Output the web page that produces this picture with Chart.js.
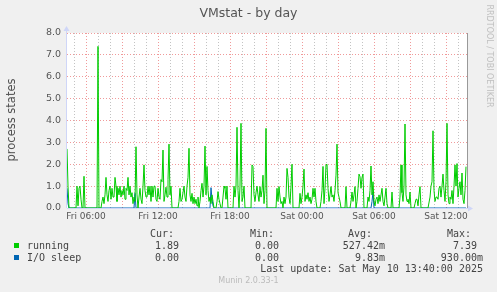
<!DOCTYPE html>
<html>
<head>
  <meta charset="utf-8">
  <title>VMstat - by day</title>
  <script src="https://cdn.jsdelivr.net/npm/chart.js"></script>
  <style>
    * { margin: 0; padding: 0; }
    body {
      width: 497px;
      height: 292px;
      background-color: #f0f0f0;
      position: relative;
      overflow: hidden;
      font-family: 'DejaVu Sans', sans-serif;
    }
    #chart { position: absolute; left: 0; top: 0; }
    .txt { position: absolute; white-space: pre; }
    #title { left: 0; width: 497px; top: 5px; text-align: center; font-size: 12.5px; line-height: 16px; color: #555; }
    #ytitle { left: -39px; top: 113px; width: 100px; text-align: center; font-size: 11.5px; line-height: 14px; color: #555; transform: rotate(-90deg); }
    #rrd { left: 437px; top: 51px; width: 104px; text-align: center; font-size: 8px; line-height: 10px; color: #c0c0c0; transform: rotate(90deg); }
    .mono { font-family: 'DejaVu Sans Mono', monospace; font-size: 10px; line-height: 12px; color: #444; }
    .sq { position: absolute; width: 5px; height: 5px; }
    #munin { left: 0; width: 497px; text-align: center; top: 276px; font-size: 8px; line-height: 10px; color: #bbb; }
  </style>
</head>
<body>
  <canvas id="chart" width="497" height="292"></canvas>
  <div class="txt" id="title">VMstat - by day</div>
  <div class="txt" id="ytitle">process states</div>
  <div class="txt" id="rrd">RRDTOOL / TOBI OETIKER</div>
  <div id="legend"></div>
  <div class="txt" id="munin">Munin 2.0.33-1</div>
  <script>
    // 5 minute samples, Fri 04:25 -> Sat 13:40
    const startHour = 4 + 25 / 60;
    const stepHour = 5 / 60;

    const running = [
      2.7,1.0,0,0,0,0,0,0,0,0,1.0,0.1,0.9,1.0,0.4,0,0,1.45,0,0,
      0,0,0,0,0,0,0,0,0,0,0,7.39,0,0,0,0.3,0.5,0.2,0.6,1.4,
      0.6,0.3,0.8,1.0,0.4,0.9,0.5,0.5,1.4,1.0,0.3,0.9,0.6,1.0,0.5,0.8,0.6,1.0,0.4,0.9,
      0.8,1.4,0.6,1.0,0.5,0.7,0.2,0.5,0.3,2.8,0.6,0,0.5,0.9,0.4,0.2,1.0,1.97,0.8,0.5,
      0.5,1.0,0.6,1.0,0.3,1.0,0.5,1.0,1.0,0.4,0.3,0.9,0.5,0.4,1.3,1.2,2.65,0.3,0.6,0.95,
      0.5,1.3,2.92,0.6,1.0,0,0,0,0,0,0,0,0.3,0.9,0.3,0.4,0.7,1.0,0.5,0.3,
      1.0,1.4,2.73,0.6,0.3,0.67,0.2,0.5,0.2,0.4,0.1,0.5,0,0.3,0.8,1.13,0.5,1.0,2.83,0.6,
      1.9,0.8,0.3,0.5,0.2,0.6,0.3,0,0,0,0.3,0.75,0.4,0.2,0,0,0.5,1.0,0.9,0.4,
      1.0,0,0,0,0,0,0,1.0,0.5,1.0,3.69,0.8,0,1.0,3.87,0.3,0.5,1.0,0,0,
      0,0,0,0,0,1.97,1.9,0.6,0.3,0.7,1.0,0.6,0.3,0.98,0.5,0.8,1.5,0.2,0.8,3.64,
      0,0,0,0,0,0,0,0,0,0,0.9,0.3,0.98,0.5,0.2,0.3,0,0.5,0.2,0.5,
      1.81,1.4,0.5,0.2,1.0,2.0,0,0,0,0,0,0,0,0.67,0.2,0.5,1.0,1.78,0.3,0.6,
      0.4,0.7,0.3,0.5,0.2,0.4,0.9,0.5,0.9,0.3,0,0,0,0,0.3,0.8,1.9,0.2,0.9,1.97,
      2.0,0.9,0.3,0.6,0.98,0.5,0.6,0.3,0.8,1.5,2.92,0.7,0.5,0.3,0,0,0,0,0,0.98,
      0,0,0,0,0.3,0.73,0.3,0.6,0.98,0,0.3,0.9,1.55,1.43,0.9,1.4,1.55,0,0,0,
      0,0.5,0.3,0.8,1.92,0.6,1.2,0.3,0.1,0.4,0.5,0.2,0.6,0.3,0.6,0.9,0.3,0.1,0.5,0.9,
      0.2,0,0,0,0,0.73,0,0,0,0,0,0,0,0.5,1.97,0.7,0.3,1.0,3.84,0.6,
      0.3,0.4,0.2,0.73,0,0,0,0,0.2,0.4,0.4,0.1,0.6,0.98,0,0,0,0,0,0,
      0,0,0,0.5,1.0,1.2,3.53,0.8,0.3,0.5,0.5,0.4,0.9,1.0,0.5,1.0,1.55,0.8,0.3,1.2,
      3.87,0.6,0.2,0.5,0.4,0.8,0.2,1.0,1.97,1.0,2.03,0.5,0.9,1.2,0.6,1.6,0.4,0.2,0.8,1.89
    ];

    const ioSleep = [
      0.9,0.2,0,0,0,0,0,0,0,0,0,0,0,0,0,0,0,0,0,0,
      0,0,0,0,0,0,0,0,0,0,0,0,0,0,0,0,0,0,0,0,
      0,0,0,0,0,0,0,0,0,0,0,0,0,0,0,0,0,0,0,0,
      0,0,0,0,0,0,0,0,0.67,0,0,0,0,0,0,0,0,0,0,0,
      0,0,0,0,0,0,0,0,0,0,0,0,0,0,0,0,0,0,0,0,
      0,0,0,0,0,0,0,0,0,0,0,0,0,0,0,0,0,0,0,0,
      0,0,0,0,0,0,0,0,0,0,0,0,0,0,0,0,0,0,0,0,
      0,0,0,0,0.93,0.4,0.1,0,0,0,0,0,0,0,0,0,0,0,0,0,
      0,0,0,0,0,0,0,0,0,0,0,0,0,0,0,0,0,0,0,0,
      0,0,0,0,0,0,0,0,0,0,0,0,0,0,0,0,0,0,0,0,
      0,0,0,0,0,0,0,0,0,0,0,0,0,0,0,0,0,0,0,0,
      0,0,0,0,0,0,0,0,0,0,0,0,0,0,0,0,0,0,0,0,
      0,0,0,0,0,0,0,0,0,0,0,0,0,0,0,0,0,0,0,0,
      0,0,0,0,0,0,0,0,0,0,0,0,0,0,0,0,0,0,0,0,
      0,0,0,0,0,0,0,0,0,0,0,0,0,0,0,0,0,0,0,0,
      0,0,0,0,0,0.3,0.73,0,0,0,0,0,0,0,0,0,0,0,0,0,
      0,0,0,0,0,0,0,0,0,0,0,0,0,0,0,0,0,0,0,0,
      0,0,0,0,0,0,0,0,0,0,0,0,0,0,0,0,0,0,0,0,
      0,0,0,0,0,0,0,0,0,0,0,0,0,0,0,0,0,0,0,0,
      0,0,0,0,0,0,0,0,0,0,0,0,0,0,0,0,0,0,0,0
    ];

    const xTickHours = [6, 12, 18, 24, 30, 36];
    const xTickLabels = ['Fri 06:00', 'Fri 12:00', 'Fri 18:00', 'Sat 00:00', 'Sat 06:00', 'Sat 12:00'];

    const seriesNames = ['running', 'I/O sleep'];
    const seriesColors = ['#00cc00', '#0066b3'];
    const curVals = ['1.89', '0.00'];
    const minVals = ['0.00', '0.00'];
    const avgVals = ['527.42m', '9.83m'];
    const maxVals = ['7.39 ', '930.00m'];
    const lastUpdate = 'Last update: Sat May 10 13:40:00 2025';

    // legend table under the graph
    const legend = document.getElementById('legend');
    function addText(txt, top, left, right) {
      const d = document.createElement('div');
      d.className = 'txt mono';
      d.textContent = txt;
      d.style.top = top + 'px';
      if (left !== null) d.style.left = left + 'px';
      else d.style.right = (497 - right) + 'px';
      legend.appendChild(d);
    }
    addText('Cur:', 228, 150, null);
    addText('Min:', 228, 250, null);
    addText('Avg:', 228, 348, null);
    addText('Max:', 228, 447, null);
    seriesNames.forEach((name, i) => {
      const top = 240 + i * 11.5;
      const sq = document.createElement('div');
      sq.className = 'sq';
      sq.style.left = '14px';
      sq.style.top = (top + 3) + 'px';
      sq.style.background = seriesColors[i];
      legend.appendChild(sq);
      addText(name, top, 27, null);
      addText(curVals[i] + ' ', top, null, 185);
      addText(minVals[i] + ' ', top, null, 285);
      addText(avgVals[i], top, null, 385);
      addText(maxVals[i], top, null, 483);
    });
    addText(lastUpdate, 263, null, 483);

    const hourTicks = [];
    for (let h = 5; h <= 37; h++) hourTicks.push(h);

    const toPoints = arr => arr.map((v, i) => ({ x: startHour + i * stepHour, y: v }));

    const frame = {
      id: 'frame',
      beforeDraw(chart) {
        const a = chart.chartArea, c = chart.ctx;
        c.save();
        c.fillStyle = '#ffffff';
        c.fillRect(a.left, a.top, a.right - a.left, a.bottom - a.top);
        c.restore();
      },
      beforeDatasetsDraw(chart) {
        const a = chart.chartArea, c = chart.ctx;
        c.save();
        c.strokeStyle = '#cfd6f8';
        c.fillStyle = '#cfd6f8';
        c.lineWidth = 1;
        c.beginPath();
        c.moveTo(a.left - 0.5, a.bottom);
        c.lineTo(a.left - 0.5, a.top - 4);
        c.moveTo(a.left, a.bottom + 0.5);
        c.lineTo(a.right + 4, a.bottom + 0.5);
        c.stroke();
        c.beginPath();
        c.moveTo(a.left - 3.5, a.top - 2);
        c.lineTo(a.left + 2.5, a.top - 2);
        c.lineTo(a.left - 0.5, a.top - 7);
        c.closePath();
        c.fill();
        c.beginPath();
        c.moveTo(a.right + 1, a.bottom - 2.5);
        c.lineTo(a.right + 1, a.bottom + 3.5);
        c.lineTo(a.right + 6, a.bottom + 0.5);
        c.closePath();
        c.fill();
        c.restore();
      },
      afterDatasetsDraw(chart) {
        const a = chart.chartArea, c = chart.ctx;
        c.save();
        c.strokeStyle = '#999999';
        c.lineWidth = 1;
        c.beginPath();
        c.moveTo(a.right + 0.5, a.top);
        c.lineTo(a.right + 0.5, a.bottom);
        c.stroke();
        c.restore();
      }
    };

    const ctx = document.getElementById('chart').getContext('2d');
    new Chart(ctx, {
      type: 'line',
      data: {
        datasets: [
          { label: seriesNames[0], data: toPoints(running), borderColor: seriesColors[0] },
          { label: seriesNames[1], data: toPoints(ioSleep), borderColor: seriesColors[1] }
        ]
      },
      options: {
        responsive: false,
        animation: false,
        devicePixelRatio: 1,
        layout: { padding: { left: 0, top: 33, right: 30, bottom: 64 } },
        plugins: { legend: { display: false }, title: { display: false }, tooltip: { enabled: false } },
        elements: { point: { radius: 0 }, line: { borderWidth: 1, tension: 0, fill: false } },
        scales: {
          x: {
            type: 'linear',
            min: startHour,
            max: startHour + 400 * stepHour,
            afterFit(s) { s.height = 20; },
            afterBuildTicks(s) { s.ticks = hourTicks.map(v => ({ value: v })); },
            grid: {
              drawTicks: false,
              lineWidth: 1,
              color: c => (c.tick && c.tick.value % 3 === 0) ? 'rgba(235,120,120,0.75)' : 'rgba(180,180,180,0.8)'
            },
            border: { display: false, dash: [1, 2] },
            ticks: {
              autoSkip: false,
              maxRotation: 0,
              padding: 3,
              color: '#555',
              font: { family: 'DejaVu Sans', size: 9 },
              callback: v => {
                const k = xTickHours.indexOf(v);
                return k >= 0 ? xTickLabels[k] : '';
              }
            }
          },
          y: {
            min: 0,
            max: 8,
            afterFit(s) { s.width = 67; },
            grid: {
              drawTicks: false,
              lineWidth: 1,
              color: c => (c.tick && Number.isInteger(c.tick.value)) ? 'rgba(235,120,120,0.75)' : 'rgba(180,180,180,0.8)'
            },
            border: { display: false, dash: [1, 2] },
            ticks: {
              stepSize: 0.5,
              padding: 6,
              color: '#555',
              font: { family: 'DejaVu Sans', size: 9.5 },
              callback: v => Number.isInteger(v) ? v.toFixed(1) : ''
            }
          }
        }
      },
      plugins: [frame]
    });
  </script>
</body>
</html>
